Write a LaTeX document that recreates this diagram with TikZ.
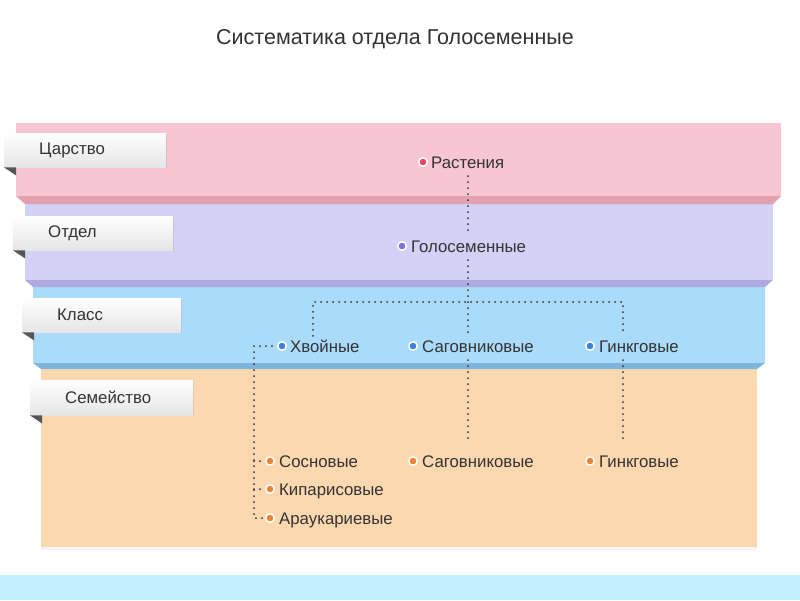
\documentclass[tikz,border=0pt]{standalone}
\usepackage{fontspec}
\setmainfont{Liberation Sans}
\usetikzlibrary{shadows}
\definecolor{pinkA}{HTML}{F8C5D2}
\definecolor{pinkB}{HTML}{E2A0B0}
\definecolor{lavA}{HTML}{D3D1F5}
\definecolor{lavB}{HTML}{AEAADF}
\definecolor{bluA}{HTML}{ABDBFA}
\definecolor{bluB}{HTML}{7DB5DF}
\definecolor{orA}{HTML}{FBD8B0}
\definecolor{cyanA}{HTML}{C2F0FD}
\definecolor{txt}{HTML}{333333}
\definecolor{foldc}{HTML}{555555}
\definecolor{dotR}{HTML}{E8455E}
\definecolor{dotP}{HTML}{7A70E0}
\definecolor{dotB}{HTML}{3F7FE0}
\definecolor{dotO}{HTML}{EB8435}
\tikzset{
  tabbox/.style={draw=none, top color=white, bottom color=black!10, anchor=north west, inner sep=0pt,
    drop shadow={shadow xshift=1pt, shadow yshift=-1pt, opacity=0.25}},
  tablab/.style={anchor=west, inner sep=0pt, text=txt, font=\fontsize{16.8}{18}\selectfont},
  itm/.style={anchor=base west, inner xsep=0pt, inner ysep=4pt, text height=12pt, text depth=4pt, text=txt, font=\fontsize{16.8}{18}\selectfont},
  dotm/.style={circle, draw=white, line width=1.5pt, minimum size=8.5pt, inner sep=0pt},
  dotl/.style={draw=txt, line width=2pt, line cap=round, dash pattern=on 0pt off 6pt},
  foldtri/.style={fill=foldc}
}
\begin{document}
\begin{tikzpicture}[x=1pt,y=-1pt]
\useasboundingbox (0,0) rectangle (800,600);
\fill[white] (0,0) rectangle (800,600);
% title
\node[text=txt, font=\fontsize{21.5}{24}\selectfont] (title) at (395,39) {Систематика отдела Голосеменные};
% bands
\fill[cyanA] (0,575) rectangle (800,600);
\fill[orA, drop shadow={shadow xshift=0pt, shadow yshift=-3pt, opacity=0.08}] (41,369) rectangle (757,547);
\fill[bluA] (33,287) rectangle (765,363);
\fill[bluB] (33,363) -- (765,363) -- (757,369) -- (41,369) -- cycle;
\fill[lavA] (25,204) rectangle (773,280);
\fill[lavB] (25,280) -- (773,280) -- (765,287) -- (33,287) -- cycle;
\fill[pinkA] (16,123) rectangle (781,196);
\fill[pinkB] (16,196) -- (781,196) -- (773,204) -- (25,204) -- cycle;
% tabs
\node[tabbox, minimum width=162pt, minimum height=34pt] (t1) at (4,133) {};
\node[tabbox, minimum width=160pt, minimum height=34pt] (t2) at (13,216) {};
\node[tabbox, minimum width=159pt, minimum height=34pt] (t3) at (22,298) {};
\node[tabbox, minimum width=163pt, minimum height=35pt] (t4) at (30,380) {};
\foreach \t in {t1,t2,t3,t4}{
  \fill[foldtri] (\t.south west) -- ++(12,0) -- ++(0,8) -- cycle;
}
\node[tablab] (l1) at ([xshift=35pt]t1.west) {Царство};
\node[tablab] (l2) at ([xshift=35pt]t2.west) {Отдел};
\node[tablab] (l3) at ([xshift=35pt]t3.west) {Класс};
\node[tablab] (l4) at ([xshift=35pt]t4.west) {Семейство};
% items
\node[itm] (rast) at (431,168) {Растения};
\node[itm] (gol) at (411,252) {Голосеменные};
\node[itm] (hv) at (290,352) {Хвойные};
\node[itm] (sag1) at (422,352) {Саговниковые};
\node[itm] (gink1) at (599,352) {Гинкговые};
\node[itm] (sos) at (279,467) {Сосновые};
\node[itm] (sag2) at (422,467) {Саговниковые};
\node[itm] (gink2) at (599,467) {Гинкговые};
\node[itm] (kip) at (279,495) {Кипарисовые};
\node[itm] (ara) at (279,524) {Араукариевые};
% markers
\node[dotm, fill=dotR] (drast) at (423,162) {};
\node[dotm, fill=dotP] (dgol) at (402,246) {};
\node[dotm, fill=dotB] (dhv) at (282,346) {};
\node[dotm, fill=dotB] (dsag1) at (413,346) {};
\node[dotm, fill=dotB] (dgink1) at (590,346) {};
\node[dotm, fill=dotO] (dsos) at (270,461) {};
\node[dotm, fill=dotO] (dsag2) at (413,461) {};
\node[dotm, fill=dotO] (dgink2) at (590,461) {};
\node[dotm, fill=dotO] (dkip) at (270,489) {};
\node[dotm, fill=dotO] (dara) at (270,518) {};
% junctions
\coordinate (j0) at (468,302);
\coordinate (jl) at (313,302);
\coordinate (jr) at (623,302);
\coordinate (bx) at (254,346);
% connectors
\draw[dotl] (rast.south -| j0) -- ([yshift=4pt]gol.north -| j0);
\draw[dotl] (gol.south -| j0) -- ([yshift=3pt]sag1.north -| j0);
\draw[dotl] (hv.north -| jl) -- (jl) -- (jr) -- (gink1.north -| jr);
\draw[dotl] (sag1.south -| j0) -- ([yshift=8pt]sag2.north -| j0);
\draw[dotl] (gink1.south -| jr) -- ([yshift=8pt]gink2.north -| jr);
\draw[dotl] ([xshift=-5pt]dhv.west) -- (bx) -- (dara.west -| bx) -- ([xshift=-2pt]dara.west);
\draw[dotl] (dsos.west -| bx) -- ([xshift=-2pt]dsos.west);
\draw[dotl] (dkip.west -| bx) -- ([xshift=-2pt]dkip.west);
\end{tikzpicture}
\end{document}
